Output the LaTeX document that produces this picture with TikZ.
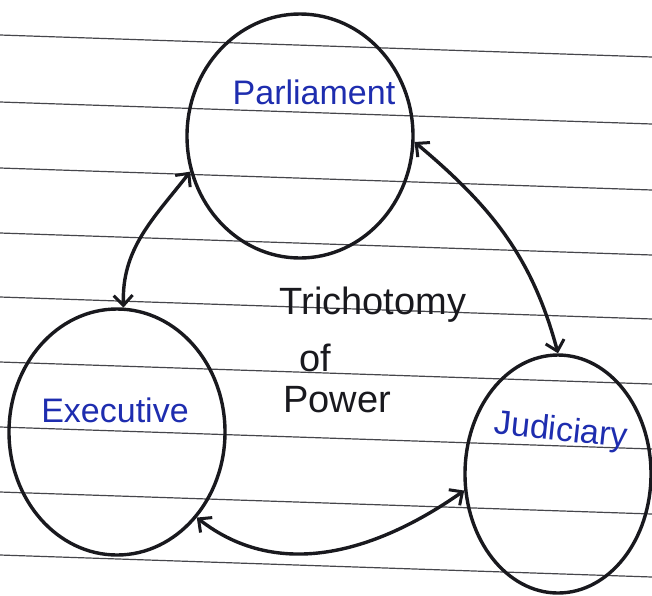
\documentclass[tikz,border=0pt]{standalone}
\usepackage{fontspec}
\setmainfont{Liberation Sans}
\usetikzlibrary{shapes.geometric,arrows.meta}
\definecolor{ink}{RGB}{25,25,30}
\definecolor{pen}{RGB}{30,45,175}
\definecolor{ruleline}{RGB}{70,70,75}
\begin{document}
\begin{tikzpicture}[x=1pt,y=-1pt,
  blob/.style={ellipse,draw=ink,line width=3.4pt,inner sep=0pt},
  barb/.tip={Straight Barb[length=10pt,width=19pt,line width=3pt]},
  link/.style={draw=ink,line width=3.4pt,{barb}-{barb}},
  penlabel/.style={text=pen,font=\fontsize{34}{34}\selectfont},
  headtxt/.style={text=ink,font=\fontsize{38}{38}\selectfont},
  paper/.style={draw=ruleline,line width=1.2pt}]
\useasboundingbox (0,0) rectangle (652,595);
\fill[white] (0,0) rectangle (652,595);
\foreach \yy in {35,102,168,233,297,362,427,492,555}
  \draw[paper] (0,\yy) -- (652,\yy+22);
% circles
\node[blob,minimum width=226pt,minimum height=244pt] (par) at (300,136) {};
\node[blob,minimum width=216pt,minimum height=246pt] (exe) at (117,432) {};
\node[blob,minimum width=186pt,minimum height=238pt] (jud) at (558,474) {};
% labels
\node[penlabel] (parl) at (314,92) {Parliament};
\node[penlabel] (exel) at (115,410) {Executive};
\node[penlabel,rotate=-6] (judl) at (561,432) {Judiciary};
% centre text
\node[headtxt] (t1) at (373,305) {Trichotomy};
\node[headtxt] (t2) at (315,358) {of};
\node[headtxt] (t3) at (337,400) {Power};
% connectors
\draw[link] (par.198) to[out=232,in=92] (exe.87);
\draw[link] (par.357) to[out=-40,in=105] (jud.90);
\draw[link] (exe.313) to[out=-38,in=215] (jud.190);
\end{tikzpicture}
\end{document}
